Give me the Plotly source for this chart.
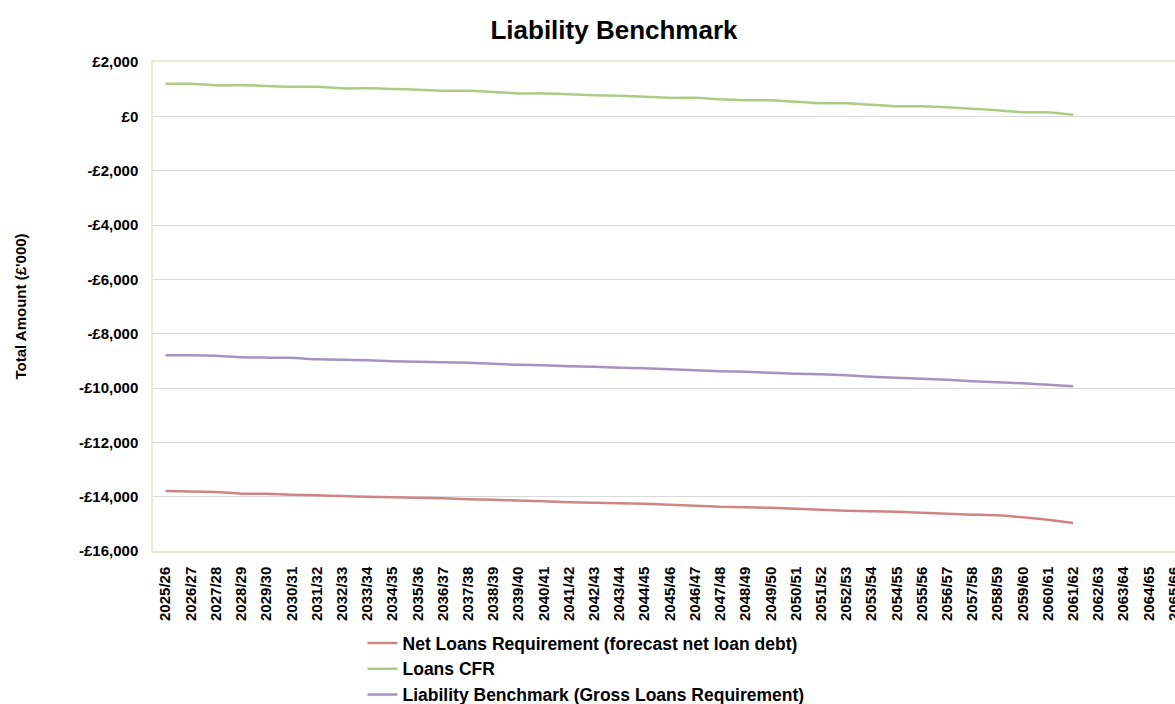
import plotly.graph_objects as go

categories = [f"{y}/{str(y + 1)[-2:]}" for y in range(2025, 2066)]

net_loans_requirement = [
    -13793, -13811, -13830, -13889, -13896, -13925, -13951, -13980, -13999, -14017,
    -14036, -14061, -14091, -14117, -14142, -14172, -14201, -14227, -14245, -14264,
    -14301, -14330, -14374, -14393, -14411, -14448, -14485, -14514, -14540, -14559,
    -14595, -14632, -14662, -14687, -14761, -14853, -14970,
]
loans_cfr = [
    1196, 1196, 1140, 1140, 1120, 1085, 1085, 1030, 1030, 1010,
    975, 940, 940, 900, 845, 845, 810, 775, 755, 720,
    680, 680, 625, 590, 590, 535, 480, 480, 425, 370,
    370, 330, 275, 220, 150, 150, 55,
]
liability_benchmark = [
    -8798, -8798, -8816, -8871, -8882, -8890, -8945, -8963, -8982, -9018,
    -9037, -9055, -9066, -9110, -9147, -9166, -9202, -9221, -9258, -9276,
    -9313, -9350, -9387, -9405, -9442, -9479, -9497, -9534, -9589, -9626,
    -9663, -9700, -9755, -9792, -9828, -9884, -9939,
]

y_tick_values = [2000, 0, -2000, -4000, -6000, -8000, -10000, -12000, -14000, -16000]
y_tick_labels = ["£2,000", "£0", "-£2,000", "-£4,000", "-£6,000", "-£8,000",
                 "-£10,000", "-£12,000", "-£14,000", "-£16,000"]

series = [
    ("Net Loans Requirement (forecast net loan debt)", net_loans_requirement, "#d08585"),
    ("Loans CFR", loans_cfr, "#aecb86"),
    ("Liability Benchmark (Gross Loans Requirement)", liability_benchmark, "#a494c2"),
]

FONT = "Liberation Sans, Arial, sans-serif"

fig = go.Figure()
for name, vals, color in series:
    fig.add_trace(go.Scatter(
        x=categories[:len(vals)], y=vals, name=name, mode="lines",
        line=dict(color=color, width=2.5, shape="spline", smoothing=0.4),
    ))

fig.update_layout(
    width=1175, height=704,
    margin=dict(l=153, r=0, t=62, b=153, autoexpand=False),
    paper_bgcolor="white", plot_bgcolor="white",
    font=dict(family=FONT, color="#000000"),
    title=dict(text="Liability Benchmark", x=614 / 1175, xref="container", xanchor="center",
               y=1 - 30 / 704, yref="container", yanchor="middle",
               font=dict(size=26, family=FONT, weight="bold", color="#000000")),
    showlegend=True,
    legend=dict(orientation="v", x=0.205, xanchor="left",
                y=1 - 625 / 704, yref="container", yanchor="top",
                font=dict(size=17.5, family=FONT, weight="bold", color="#000000"),
                itemwidth=30, tracegroupgap=0, bgcolor="rgba(0,0,0,0)"),
)

fig.update_xaxes(
    type="category", categoryorder="array", categoryarray=categories,
    range=[-0.5, 40.04], tickmode="array", tickvals=categories, ticktext=categories,
    tickangle=-90, tickfont=dict(size=15, family=FONT, weight="bold", color="#000000"),
    showgrid=False, showline=True, linecolor="#ece8da", linewidth=1.5, mirror=True,
    ticks="", ticklabelstandoff=8, automargin=False,
)
fig.update_yaxes(
    range=[-16000, 2000], tickmode="array", tickvals=y_tick_values, ticktext=y_tick_labels,
    tickfont=dict(size=15, family=FONT, weight="bold", color="#000000"),
    showgrid=True, gridcolor="#d9d9d9", gridwidth=1.2,
    showline=True, linecolor="#ece8da", linewidth=1.5, mirror=True,
    zeroline=False, ticks="", ticklabelstandoff=10, automargin=False,
)

fig.add_annotation(
    text="Total Amount (£'000)", textangle=-90, xref="paper", yref="paper",
    x=(20 - 153) / 1022, y=0.5, xanchor="center", yanchor="middle", showarrow=False,
    font=dict(size=15, family=FONT, weight="bold", color="#000000"),
)

fig.write_html("out.html")
